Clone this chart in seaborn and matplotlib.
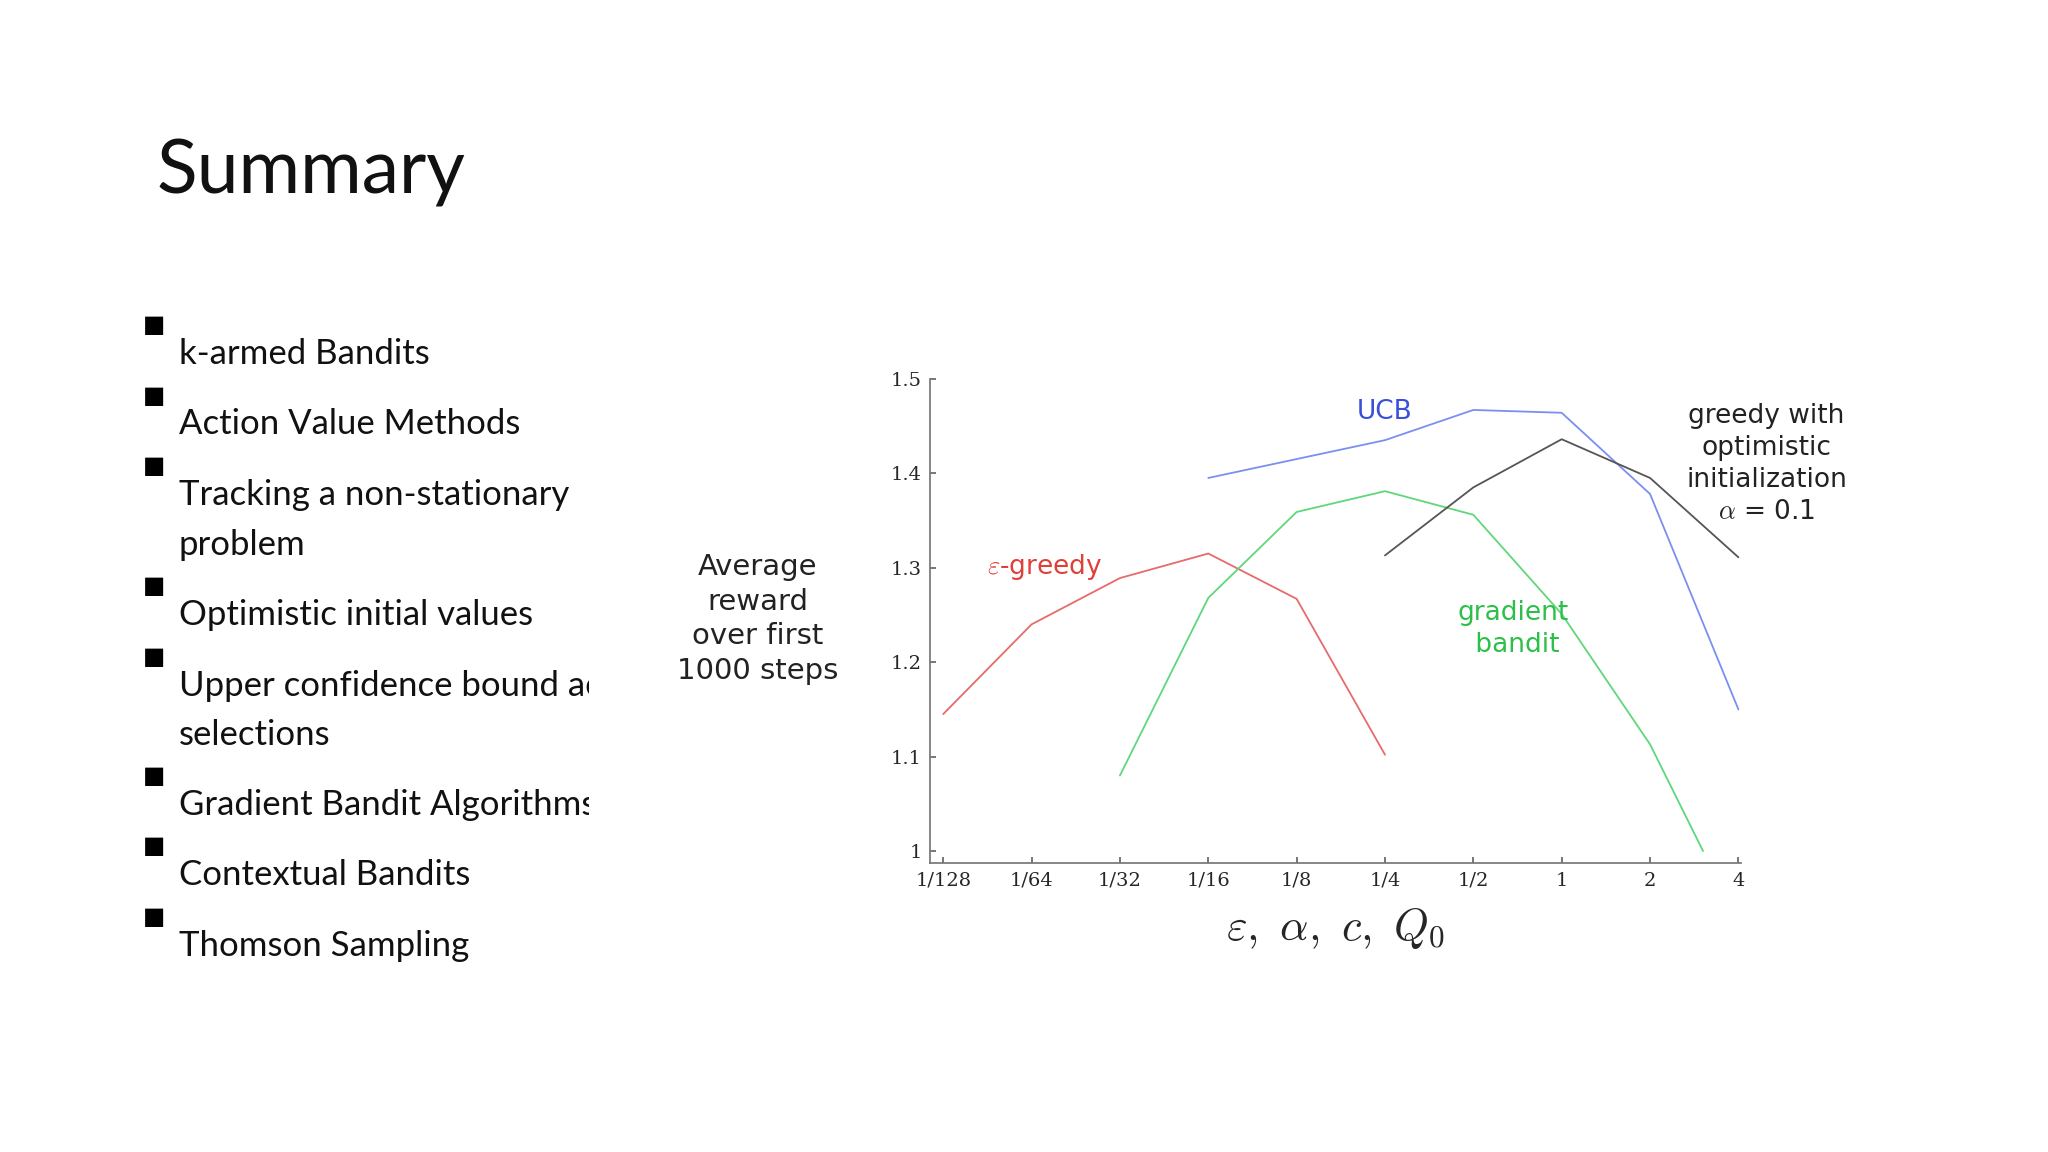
import numpy as np
import matplotlib.pyplot as plt
import matplotlib.patches as mpatches
import seaborn as sns

sns.set_theme(style="white")
plt.rcParams['font.family'] = ['DejaVu Sans']
plt.rcParams['mathtext.fontset'] = 'cm'

# Data (x = index on a log2 scale from 1/128 to 4)
tick_labels = ["1/128", "1/64", "1/32", "1/16", "1/8", "1/4", "1/2", "1", "2", "4"]

eps_x = [0, 1, 2, 3, 4, 5]
eps_y = [1.145, 1.240, 1.289, 1.315, 1.267, 1.102]

grad_x = [2, 3, 4, 5, 6, 7, 8, 8.6]
grad_y = [1.080, 1.268, 1.359, 1.381, 1.356, 1.251, 1.113, 1.000]

ucb_x = [3, 5, 6, 7, 8, 9]
ucb_y = [1.395, 1.435, 1.467, 1.464, 1.378, 1.150]

opt_x = [5, 6, 7, 8, 9]
opt_y = [1.313, 1.385, 1.436, 1.395, 1.311]

bullets = [["k-armed Bandits"], ["Action Value Methods"], ["Tracking a non-stationary", "problem"],
           ["Optimistic initial values"], ["Upper confidence bound action", "selections"],
           ["Gradient Bandit Algorithms"], ["Contextual Bandits"], ["Thomson Sampling"]]
bullet_y = [271, 325, 379, 471, 525, 616, 670, 724]

W, H = 1568, 882
fig = plt.figure(figsize=(20.48, 11.52), dpi=100)
fig.patch.set_facecolor("white")

fig.text(120 / W, 1 - 132 / H, "Summary", fontsize=54, family="Lato",
         va="center", ha="left", color="#111111")

for lines, yb in zip(bullets, bullet_y):
    fig.text(118 / W, 1 - (yb - 22) / H, "\u25A0", fontsize=17, ha="center", va="center",
             color="black")
    for i, line in enumerate(lines):
        fig.text(137 / W, 1 - (yb + 38 * i) / H, line, fontsize=25, family="Lato",
                 va="center", ha="left", color="#111111")
# hide overflow like the slide text box
fig.patches.append(mpatches.Rectangle((451 / W, 0.1), 60 / W, 0.65, transform=fig.transFigure,
                                      facecolor="white", edgecolor="none", zorder=5))

ax = fig.add_axes([712 / W, 1 - 661 / H, (1333 - 712) / W, (661 - 290) / H])
ax.set_facecolor("white")
sns.lineplot(x=eps_x, y=eps_y, ax=ax, color="#e86a6a", lw=1.3)
sns.lineplot(x=grad_x, y=grad_y, ax=ax, color="#5fd77a", lw=1.3)
sns.lineplot(x=ucb_x, y=ucb_y, ax=ax, color="#7b8ff0", lw=1.3)
sns.lineplot(x=opt_x, y=opt_y, ax=ax, color="#555555", lw=1.3)

ax.set_xlim(-0.15, 9.03)
ax.set_ylim(0.987, 1.5)
ax.set_xticks(range(10))
ax.set_xticklabels(tick_labels, family="DejaVu Serif", fontsize=14)
ax.set_yticks([1, 1.1, 1.2, 1.3, 1.4, 1.5])
ax.set_yticklabels(["1", "1.1", "1.2", "1.3", "1.4", "1.5"], family="DejaVu Serif", fontsize=14)
ax.tick_params(direction="in", length=4, color="#666666", left=True, bottom=True, pad=6)
for s in ["top", "right"]:
    ax.spines[s].set_visible(False)
for s in ["left", "bottom"]:
    ax.spines[s].set_color("#777777")
ax.set_xlabel(r"$\varepsilon,\ \alpha,\ c,\ Q_0$", fontsize=32, labelpad=12)

fig.text(580 / W, 1 - 474 / H, "Average\nreward\nover first\n1000 steps", fontsize=21,
         ha="center", va="center", linespacing=1.3, color="#222222")
ax.text(1.15, 1.301, r"$\varepsilon$-greedy", color="#e0403a", fontsize=19, ha="center", va="center")
ax.text(5, 1.465, "UCB", color="#3a50d8", fontsize=19, ha="center", va="center")
ax.text(6.45, 1.235, "gradient\n bandit", color="#2cc04a", fontsize=19, ha="center",
        va="center", linespacing=1.3)
ax.text(9.32, 1.41, "greedy with\noptimistic\ninitialization\n" + r"$\alpha$ = 0.1",
        color="#222222", fontsize=19, ha="center", va="center", linespacing=1.3, clip_on=False)

fig.savefig("out.png", dpi=100, facecolor="white")
